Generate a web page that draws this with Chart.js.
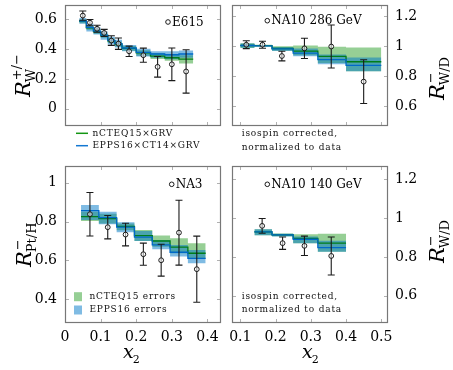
<!DOCTYPE html>
<html>
<head>
<meta charset="utf-8">
<script src="https://cdn.jsdelivr.net/npm/chart.js@4.4.1/dist/chart.umd.min.js"></script>
<style>
  body { margin: 0; background: #fff; }
  #wrap { position: relative; width: 453px; height: 370px; }
  #wrap canvas { position: absolute; left: 0; top: 0; }
</style>
</head>
<body>
<div id="wrap">
  <canvas id="e615" width="453" height="370"></canvas>
  <canvas id="na10hi" width="453" height="370"></canvas>
  <canvas id="na3" width="453" height="370"></canvas>
  <canvas id="na10lo" width="453" height="370"></canvas>
</div>
<script>
// E615 (top left)
const e615X   = [0.05, 0.07, 0.09, 0.11, 0.13, 0.15, 0.18, 0.22, 0.26, 0.30, 0.34];
const e615Y   = [0.624, 0.577, 0.536, 0.508, 0.457, 0.436, 0.385, 0.359, 0.281, 0.298, 0.250];
const e615Err = [0.031, 0.021, 0.023, 0.024, 0.032, 0.038, 0.035, 0.047, 0.069, 0.109, 0.145];
const e615Bins     = [0.04, 0.06, 0.08, 0.10, 0.12, 0.14, 0.16, 0.20, 0.24, 0.28, 0.32, 0.36];
const e615GreenMid = [0.585, 0.542, 0.517, 0.490, 0.455, 0.433, 0.404, 0.374, 0.353, 0.342, 0.333];
const e615GreenLo  = [0.572, 0.529, 0.503, 0.476, 0.440, 0.418, 0.389, 0.356, 0.333, 0.322, 0.303];
const e615GreenHi  = [0.598, 0.556, 0.531, 0.505, 0.470, 0.449, 0.420, 0.392, 0.373, 0.362, 0.359];
const e615BlueMid  = [0.588, 0.545, 0.520, 0.493, 0.458, 0.436, 0.407, 0.378, 0.367, 0.362, 0.367];
const e615BlueLo   = [0.569, 0.517, 0.497, 0.462, 0.431, 0.410, 0.385, 0.350, 0.342, 0.332, 0.342];
const e615BlueHi   = [0.608, 0.569, 0.545, 0.517, 0.483, 0.462, 0.427, 0.402, 0.385, 0.385, 0.390];

// NA10 286 GeV (top right)
const na286X   = [0.117, 0.163, 0.218, 0.282, 0.358, 0.450];
const na286Y   = [1.010, 1.010, 0.935, 0.986, 0.998, 0.765];
const na286Err = [0.026, 0.023, 0.032, 0.067, 0.143, 0.145];
const na286Bins     = [0.10, 0.14, 0.19, 0.25, 0.32, 0.40, 0.50];
const na286GreenMid = [1.005, 1.004, 0.985, 0.967, 0.933, 0.897];
const na286GreenLo  = [0.988, 0.998, 0.970, 0.940, 0.888, 0.833];
const na286GreenHi  = [1.020, 1.010, 1.000, 1.005, 0.997, 0.992];
const na286BlueMid  = [1.005, 1.003, 0.983, 0.954, 0.911, 0.873];
const na286BlueLo   = [0.990, 0.998, 0.969, 0.933, 0.881, 0.833];
const na286BlueHi   = [1.019, 1.008, 0.995, 0.985, 0.945, 0.925];

// NA3 (bottom left)
const na3X   = [0.07, 0.12, 0.17, 0.22, 0.27, 0.32, 0.37];
const na3Y   = [0.838, 0.771, 0.733, 0.632, 0.601, 0.743, 0.555];
const na3Err = [0.112, 0.060, 0.058, 0.057, 0.082, 0.167, 0.170];
const na3Bins     = [0.045, 0.095, 0.145, 0.195, 0.245, 0.295, 0.345, 0.395];
const na3GreenMid = [0.825, 0.815, 0.775, 0.728, 0.700, 0.668, 0.637];
const na3GreenLo  = [0.803, 0.790, 0.755, 0.700, 0.671, 0.637, 0.611];
const na3GreenHi  = [0.851, 0.840, 0.790, 0.757, 0.728, 0.714, 0.688];
const na3BlueMid  = [0.856, 0.820, 0.771, 0.720, 0.680, 0.642, 0.611];
const na3BlueLo   = [0.808, 0.786, 0.745, 0.700, 0.658, 0.620, 0.586];
const na3BlueHi   = [0.885, 0.851, 0.796, 0.752, 0.705, 0.680, 0.654];

// NA10 140 GeV (bottom right)
const na140X   = [0.162, 0.220, 0.282, 0.358];
const na140Y   = [0.960, 0.871, 0.857, 0.805];
const na140Err = [0.038, 0.032, 0.050, 0.098];
const na140Bins     = [0.14, 0.19, 0.25, 0.32, 0.40];
const na140GreenMid = [0.929, 0.914, 0.896, 0.871];
const na140GreenLo  = [0.912, 0.906, 0.871, 0.826];
const na140GreenHi  = [0.943, 0.921, 0.917, 0.920];
const na140BlueMid  = [0.929, 0.914, 0.891, 0.848];
const na140BlueLo   = [0.912, 0.905, 0.871, 0.826];
const na140BlueHi   = [0.943, 0.920, 0.905, 0.883];

const FONT = '"DejaVu Serif", serif';
const GREEN_BAND = 'rgba(46, 160, 44, 0.5)';
const BLUE_BAND = 'rgba(0, 120, 200, 0.5)';
const GREEN_LINE = 'rgb(0, 125, 25)';
const BLUE_LINE = 'rgb(0, 105, 200)';
const FRAME = '#777';

Chart.defaults.font.family = FONT;
Chart.defaults.font.size = 14;
Chart.defaults.color = '#000';

// points for a stepped line: each value holds from its left bin edge to the next
function stepPts(edges, vals) {
  const pts = vals.map((v, i) => ({ x: edges[i], y: v }));
  pts.push({ x: edges[edges.length - 1], y: vals[vals.length - 1] });
  return pts;
}

function buildDatasets(edges, gLo, gHi, gMid, bLo, bHi, bMid, xs, ys, errs) {
  const step = { stepped: true, pointRadius: 0, borderWidth: 0 };
  return [
    { ...step, data: stepPts(edges, gHi), fill: false, order: 6 },
    { ...step, data: stepPts(edges, gLo), fill: '-1', backgroundColor: GREEN_BAND, order: 6 },
    { ...step, data: stepPts(edges, bHi), fill: false, order: 5 },
    { ...step, data: stepPts(edges, bLo), fill: '-1', backgroundColor: BLUE_BAND, order: 5 },
    { ...step, data: stepPts(edges, gMid), borderWidth: 1.3, borderColor: GREEN_LINE, fill: false, order: 3 },
    { ...step, data: stepPts(edges, bMid), borderWidth: 1.3, borderColor: BLUE_LINE, fill: false, order: 2 },
    {
      data: xs.map((x, i) => ({ x: x, y: ys[i] })), errors: errs,
      showLine: false, pointRadius: 2.4, pointBorderWidth: 1,
      pointBorderColor: '#1a1a1a', pointBackgroundColor: 'rgba(255,255,255,0.55)', order: 1
    }
  ];
}

const fmt = v => String(Math.round(v * 10) / 10);

function axes(xr, yr, yPos, showX) {
  return {
    x: {
      type: 'linear', min: xr[0], max: xr[1], display: showX,
      grid: { display: false, drawTicks: false }, border: { display: false },
      ticks: { stepSize: 0.1, includeBounds: false, padding: 6, maxRotation: 0, autoSkip: false, callback: fmt },
      afterFit: s => { s.height = 30; s.paddingLeft = 0; s.paddingRight = 0; }
    },
    y: {
      type: 'linear', position: yPos, min: yr[0], max: yr[1],
      grid: { display: false, drawTicks: false }, border: { display: false },
      ticks: { stepSize: 0.2, includeBounds: false, padding: yPos === 'left' ? 8 : 7, callback: fmt },
      afterFit: s => { s.width = yPos === 'left' ? 65 : 40; s.paddingTop = 0; s.paddingBottom = 0; }
    }
  };
}

function mathLabel(ctx, x, y, rotate, main, sup, sub, size) {
  ctx.save();
  ctx.translate(x, y);
  if (rotate) ctx.rotate(-Math.PI / 2);
  ctx.fillStyle = '#000';
  ctx.textBaseline = 'alphabetic';
  ctx.textAlign = 'left';
  ctx.font = 'italic ' + size + 'px ' + FONT;
  ctx.fillText(main, 0, 0);
  const w = ctx.measureText(main).width;
  ctx.font = Math.round(size * 0.6) + 'px ' + FONT;
  if (sup) ctx.fillText(sup, w + 1, -size * 0.45);
  if (sub) ctx.fillText(sub, w - 1, size * 0.25);
  ctx.restore();
}

function decor(cfg) {
  return {
    id: 'decor',
    beforeDatasetDraw(chart, args) {
      const ds = chart.data.datasets[args.index];
      if (!ds.errors) return;
      const { ctx, chartArea: a, scales: { x, y } } = chart;
      ctx.save();
      ctx.beginPath();
      ctx.rect(a.left, a.top, a.width, a.height);
      ctx.clip();
      ctx.strokeStyle = '#1a1a1a';
      ctx.lineWidth = 1.1;
      ds.data.forEach((p, i) => {
        const px = x.getPixelForValue(p.x);
        const top = y.getPixelForValue(p.y + ds.errors[i]);
        const bot = y.getPixelForValue(p.y - ds.errors[i]);
        ctx.beginPath();
        ctx.moveTo(px, top); ctx.lineTo(px, bot);
        ctx.moveTo(px - 3.5, top); ctx.lineTo(px + 3.5, top);
        ctx.moveTo(px - 3.5, bot); ctx.lineTo(px + 3.5, bot);
        ctx.stroke();
      });
      ctx.restore();
    },
    afterDraw(chart) {
      const { ctx, chartArea: a, scales: { x, y } } = chart;
      ctx.save();
      // inward tick marks on all four sides
      ctx.strokeStyle = '#a8a8a8';
      ctx.lineWidth = 0.9;
      ctx.beginPath();
      x.ticks.forEach(t => {
        const px = Math.round(x.getPixelForValue(t.value)) + 0.5;
        ctx.moveTo(px, a.bottom); ctx.lineTo(px, a.bottom - 4);
        ctx.moveTo(px, a.top); ctx.lineTo(px, a.top + 4);
      });
      y.ticks.forEach(t => {
        const py = Math.round(y.getPixelForValue(t.value)) + 0.5;
        ctx.moveTo(a.left, py); ctx.lineTo(a.left + 4, py);
        ctx.moveTo(a.right, py); ctx.lineTo(a.right - 4, py);
      });
      ctx.stroke();
      ctx.strokeStyle = FRAME;
      ctx.lineWidth = 1.2;
      ctx.strokeRect(a.left + 0.5, a.top + 0.5, a.width - 1, a.height - 1);

      // experiment tag
      ctx.lineWidth = 1;
      ctx.strokeStyle = '#1a1a1a';
      ctx.beginPath();
      ctx.arc(a.left + cfg.tag[1], a.top + cfg.tag[2], 2.3, 0, Math.PI * 2);
      ctx.stroke();
      ctx.fillStyle = '#000';
      ctx.font = '12px ' + FONT;
      ctx.textBaseline = 'middle';
      ctx.fillText(cfg.tag[0], a.left + cfg.tag[1] + 4, a.top + cfg.tag[2] + 0.5);

      // legend / note rows
      ctx.font = '9px ' + FONT;
      ctx.letterSpacing = '0.8px';
      (cfg.rows || []).forEach(r => {
        const rx = a.left + r.dx, ry = a.top + r.dy;
        if (r.line) {
          ctx.strokeStyle = r.line;
          ctx.lineWidth = 1.5;
          ctx.beginPath();
          ctx.moveTo(rx, ry); ctx.lineTo(rx + 12, ry);
          ctx.stroke();
        }
        if (r.box) {
          ctx.fillStyle = r.box;
          ctx.fillRect(rx + 1, ry - 4.5, 8, 9);
        }
        ctx.fillStyle = '#111';
        ctx.fillText(r.text, rx + (r.line || r.box ? 16.5 : 0), ry);
      });
      ctx.letterSpacing = '0px';

      // axis titles
      (cfg.titles || []).forEach(t => mathLabel(ctx, t.x, t.y, t.rot, t.main, t.sup, t.sub, t.size));
      ctx.restore();
    }
  };
}

function makeChart(id, datasets, xr, yr, yPos, showX, padding, cfg) {
  return new Chart(document.getElementById(id), {
    type: 'line',
    data: { datasets: datasets },
    options: {
      responsive: false,
      animation: false,
      events: [],
      layout: { padding: padding },
      scales: axes(xr, yr, yPos, showX),
      plugins: { legend: { display: false }, tooltip: { enabled: false } }
    },
    plugins: [decor(cfg)]
  });
}

makeChart('e615',
  buildDatasets(e615Bins, e615GreenLo, e615GreenHi, e615GreenMid, e615BlueLo, e615BlueHi, e615BlueMid, e615X, e615Y, e615Err),
  [0, 0.438], [-0.115, 0.695], 'left', false,
  { left: 0, top: 0, right: 232, bottom: 214 },
  {
    tag: ['E615', 103, 17],
    rows: [
      { dx: 11, dy: 128.3, line: 'rgb(20, 150, 20)', text: 'nCTEQ15×GRV' },
      { dx: 11, dy: 140.7, line: 'rgb(20, 120, 210)', text: 'EPPS16×CT14×GRV' }
    ],
    titles: [{ x: 30, y: 97, rot: true, main: 'R', sup: '+/−', sub: 'W', size: 21 }]
  });

makeChart('na10hi',
  buildDatasets(na286Bins, na286GreenLo, na286GreenHi, na286GreenMid, na286BlueLo, na286BlueHi, na286BlueMid, na286X, na286Y, na286Err),
  [0.0765, 0.519], [0.47, 1.274], 'right', false,
  { left: 232, top: 0, right: 25, bottom: 214 },
  {
    tag: ['NA10 286 GeV', 35.3, 15.7],
    rows: [
      { dx: 9.7, dy: 129, text: 'isospin corrected,' },
      { dx: 9.7, dy: 143, text: 'normalized to data' }
    ],
    titles: [{ x: 444, y: 100, rot: true, main: 'R', sup: '−', sub: 'W/D', size: 21 }]
  });

makeChart('na3',
  buildDatasets(na3Bins, na3GreenLo, na3GreenHi, na3GreenMid, na3BlueLo, na3BlueHi, na3BlueMid, na3X, na3Y, na3Err),
  [0, 0.438], [0.278, 1.086], 'left', true,
  { left: 0, top: 166, right: 232, bottom: 17 },
  {
    tag: ['NA3', 106.7, 18.3],
    rows: [
      { dx: 8, dy: 130.7, box: 'rgba(46, 160, 44, 0.5)', text: 'nCTEQ15 errors' },
      { dx: 8, dy: 144, box: 'rgba(0, 120, 200, 0.5)', text: 'EPPS16 errors' }
    ],
    titles: [
      { x: 31, y: 267, rot: true, main: 'R', sup: '−', sub: 'Pt/H', size: 21 },
      { x: 123, y: 358, rot: false, main: 'x', sub: '2', size: 19 }
    ]
  });

makeChart('na10lo',
  buildDatasets(na140Bins, na140GreenLo, na140GreenHi, na140GreenMid, na140BlueLo, na140BlueHi, na140BlueMid, na140X, na140Y, na140Err),
  [0.0765, 0.519], [0.459, 1.269], 'right', true,
  { left: 232, top: 166, right: 25, bottom: 17 },
  {
    tag: ['NA10 140 GeV', 35.3, 18.3],
    rows: [
      { dx: 9.7, dy: 130.7, text: 'isospin corrected,' },
      { dx: 9.7, dy: 144, text: 'normalized to data' }
    ],
    titles: [
      { x: 444, y: 263, rot: true, main: 'R', sup: '−', sub: 'W/D', size: 21 },
      { x: 302, y: 358, rot: false, main: 'x', sub: '2', size: 19 }
    ]
  });
</script>
</body>
</html>
